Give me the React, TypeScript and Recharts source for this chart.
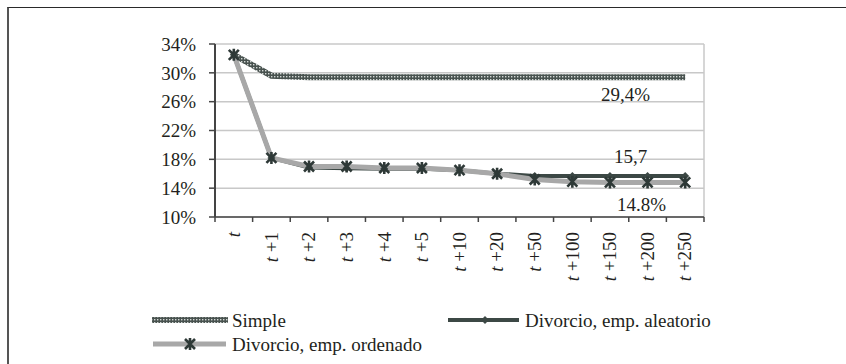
import React from "react";
import {
  LineChart,
  Line,
  XAxis,
  YAxis,
  CartesianGrid,
  LabelList,
} from "recharts";

const periods = ["t", "t +1", "t +2", "t +3", "t +4", "t +5", "t +10", "t +20", "t +50", "t +100", "t +150", "t +200", "t +250"];

const simple = [32.5, 29.6, 29.4, 29.4, 29.4, 29.4, 29.4, 29.4, 29.4, 29.4, 29.4, 29.4, 29.4];
const aleatorio = [32.5, 18.2, 16.85, 16.75, 16.7, 16.7, 16.5, 16.0, 15.7, 15.7, 15.7, 15.7, 15.7];
const ordenado = [32.5, 18.2, 17.0, 17.0, 16.8, 16.8, 16.5, 16.0, 15.2, 14.9, 14.8, 14.8, 14.8];

const yTicks = [10, 14, 18, 22, 26, 30, 34];

// index of the point that carries the value label
const labelAt = 11;

const data = periods.map((p, i) => ({
  period: p,
  simple: simple[i],
  aleatorio: aleatorio[i],
  ordenado: ordenado[i],
}));

const W = 846;
const H = 364;
const margin = { top: 44, right: 142, bottom: 67, left: 155 };
const Y_AXIS_W = 60;
const plotW = W - margin.left - margin.right - Y_AXIS_W;
const band = plotW / periods.length;

const FONT = "'Liberation Serif', Tinos, 'Times New Roman', 'DejaVu Serif', serif";
const TEXT = "#231f20";
const DARK = "#3c4845";
const STAR = "#2e3937";
const GRAY = "#a8a8a8";

const textStyle = { fontFamily: FONT, fontSize: 19 };

function XTick(props: any) {
  const { x, y, payload, index } = props;
  const label: string = payload.value;
  const rest = label.slice(1);
  return (
    <g>
      <line x1={x - band / 2} y1={y} x2={x - band / 2} y2={y + 5} stroke="#444" strokeWidth={1.5} />
      {index === periods.length - 1 && (
        <line x1={x + band / 2} y1={y} x2={x + band / 2} y2={y + 5} stroke="#444" strokeWidth={1.5} />
      )}
      <g transform={`translate(${x},${y + 15})`}>
        <text transform="rotate(-90)" textAnchor="end" dy="0.33em" style={textStyle} fill={TEXT}>
          <tspan fontStyle="italic">t</tspan>
          {rest}
        </text>
      </g>
    </g>
  );
}

function Diamond(props: any) {
  const { cx, cy, index } = props;
  if (cx == null || cy == null) return <g key={`d-${index}`} />;
  const r = 4;
  return (
    <polygon
      key={`d-${index}`}
      points={`${cx},${cy - r} ${cx + r},${cy} ${cx},${cy + r} ${cx - r},${cy}`}
      fill={DARK}
    />
  );
}

function Star(props: any) {
  const { cx, cy, index } = props;
  if (cx == null || cy == null) return <g key={`s-${index}`} />;
  const r = 5;
  return (
    <path
      key={`s-${index}`}
      d={`M${cx - r},${cy - r}L${cx + r},${cy + r}M${cx - r},${cy + r}L${cx + r},${cy - r}M${cx},${cy - r - 1}L${cx},${cy + r + 1}`}
      stroke={STAR}
      strokeWidth={2.6}
      fill="none"
    />
  );
}

function valueLabel(format: (v: number) => string, dx: number, dy: number) {
  return (props: any) => {
    const { x, y, value, index } = props;
    if (index !== labelAt) return null;
    return (
      <text
        x={x + dx}
        y={y + dy}
        textAnchor="middle"
        dominantBaseline="central"
        style={textStyle}
        fill={TEXT}
      >
        {format(value)}
      </text>
    );
  };
}

const comma = (v: number) => v.toFixed(1).replace(".", ",");

function Legend() {
  return (
    <svg
      width={W}
      height={H}
      style={{ position: "absolute", left: 0, top: 0, pointerEvents: "none" }}
    >
      <rect x={152} y={317} width={76} height={6} fill="url(#checker)" />
      <text x={232} y={320} dominantBaseline="central" style={textStyle} fill={TEXT}>
        Simple
      </text>
      <line x1={448} y1={320} x2={519} y2={320} stroke={DARK} strokeWidth={4} />
      <Diamond cx={485} cy={320} index={0} />
      <text x={525} y={320} dominantBaseline="central" style={textStyle} fill={TEXT}>
        Divorcio, emp. aleatorio
      </text>
      <line x1={153} y1={344} x2={226} y2={344} stroke={GRAY} strokeWidth={5} />
      <Star cx={190} cy={344} index={0} />
      <text x={232} y={344} dominantBaseline="central" style={textStyle} fill={TEXT}>
        Divorcio, emp. ordenado
      </text>
    </svg>
  );
}

export default function App() {
  return (
    <div
      style={{
        position: "fixed",
        left: 0,
        top: 0,
        width: W,
        height: H,
        background: "#fff",
        overflow: "hidden",
      }}
    >
      <svg width={0} height={0} style={{ position: "absolute" }}>
        <defs>
          <pattern id="checker" width={3} height={3} patternUnits="userSpaceOnUse">
            <rect width={3} height={3} fill="#48524f" />
            <rect x={1} y={1} width={1.4} height={1.4} fill="#d3d8d6" />
          </pattern>
        </defs>
      </svg>
      <div
        style={{
          position: "absolute",
          left: 7,
          top: 7,
          width: 900,
          height: 400,
          borderTop: "1.5px solid #2a2a2a",
          borderLeft: "2px solid #555",
        }}
      />
      <div style={{ position: "absolute", left: 0, top: 0 }}>
        <LineChart width={W} height={H} data={data} margin={margin}>
          <CartesianGrid
            stroke="#c8c8c8"
            strokeWidth={1.5}
            vertical={true}
            verticalPoints={[margin.left + Y_AXIS_W + plotW]}
          />
          <XAxis
            dataKey="period"
            padding={{ left: band / 2, right: band / 2 }}
            axisLine={{ stroke: "#444", strokeWidth: 1.5 }}
            tickLine={false}
            tickSize={0}
            tickMargin={0}
            interval={0}
            height={80}
            tick={<XTick />}
          />
          <YAxis
            type="number"
            domain={[10, 34]}
            ticks={yTicks}
            interval={0}
            width={Y_AXIS_W}
            axisLine={{ stroke: "#444", strokeWidth: 2 }}
            tickLine={{ stroke: "#444", strokeWidth: 1.5 }}
            tickSize={6}
            tickMargin={13}
            tickFormatter={(v) => `${v}%`}
            tick={{ style: textStyle, fill: TEXT }}
          />
          <Line
            dataKey="simple"
            stroke="url(#checker)"
            strokeWidth={6}
            dot={false}
            activeDot={false}
            isAnimationActive={false}
          >
            <LabelList content={valueLabel((v) => `${comma(v)}%`, -22, 17)} />
          </Line>
          <Line
            dataKey="aleatorio"
            stroke={DARK}
            strokeWidth={4}
            dot={Diamond}
            activeDot={false}
            isAnimationActive={false}
          >
            <LabelList content={valueLabel((v) => comma(v), -17, -19)} />
          </Line>
          <Line
            dataKey="ordenado"
            stroke={GRAY}
            strokeWidth={5}
            dot={Star}
            activeDot={false}
            isAnimationActive={false}
          >
            <LabelList content={valueLabel((v) => `${v.toFixed(1)}%`, -6, 22)} />
          </Line>
        </LineChart>
      </div>
      <Legend />
    </div>
  );
}
